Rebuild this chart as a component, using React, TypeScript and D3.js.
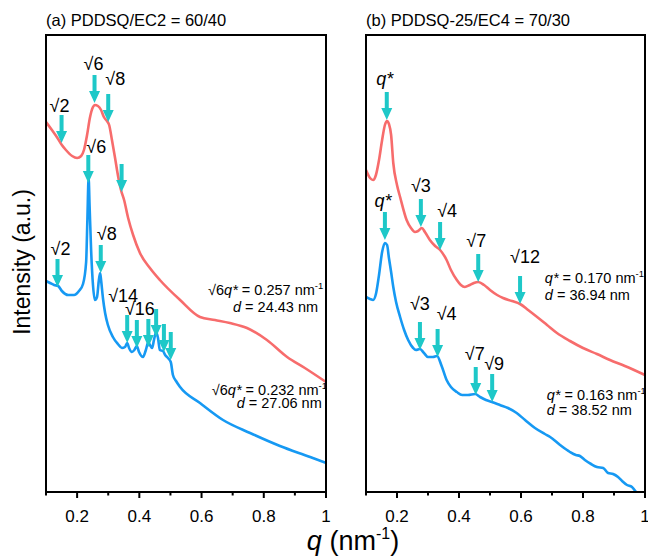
import React from "react";
import * as d3 from "d3";

// ---------- data (q in nm^-1, intensity in a.u.) ----------
const xMajorTicks = [0.2, 0.4, 0.6, 0.8, 1];
const xMinorTicks = [0.1, 0.3, 0.5, 0.7, 0.9];
const xTickLabels = ["0.2", "0.4", "0.6", "0.8", "1"];

const panelTitles = ["(a) PDDSQ/EC2 = 60/40", "(b) PDDSQ-25/EC4 = 70/30"];

const leftRed: [number, number][] = [
  [0.1, 370], [0.119, 362], [0.139, 353], [0.151, 347], [0.164, 342], [0.184, 336], [0.2, 334],
  [0.213, 336], [0.222, 342], [0.232, 357], [0.241, 374], [0.251, 385], [0.257, 387], [0.267, 386],
  [0.277, 382], [0.286, 375], [0.296, 371], [0.303, 367], [0.312, 352], [0.322, 334], [0.331, 317],
  [0.341, 302], [0.351, 292], [0.364, 274], [0.38, 257], [0.402, 239], [0.434, 224], [0.466, 212],
  [0.531, 192], [0.595, 175], [0.643, 172], [0.691, 169], [0.746, 164], [0.81, 152], [0.875, 135],
  [0.932, 124], [1.0, 110],
];

const leftBlue: [number, number][] = [
  [0.1, 211], [0.113, 209], [0.126, 207], [0.139, 206], [0.151, 201], [0.171, 197], [0.19, 197],
  [0.206, 201], [0.219, 208], [0.229, 230], [0.233, 272], [0.237, 314], [0.24, 287], [0.245, 242],
  [0.251, 207], [0.257, 192], [0.264, 195], [0.27, 212], [0.274, 219], [0.277, 212], [0.283, 194],
  [0.29, 179], [0.299, 167], [0.315, 155], [0.331, 148], [0.344, 144], [0.354, 145], [0.361, 149],
  [0.367, 144], [0.376, 140], [0.384, 142], [0.392, 146], [0.399, 140], [0.412, 135], [0.421, 142],
  [0.429, 150], [0.434, 147], [0.441, 144], [0.447, 152], [0.454, 160], [0.46, 154], [0.466, 142],
  [0.476, 141], [0.483, 137], [0.492, 134], [0.501, 130], [0.508, 117], [0.518, 111], [0.531, 105],
  [0.595, 89], [0.669, 72], [0.756, 59], [0.852, 46], [0.949, 35], [1.0, 29],
];

const rightRed: [number, number][] = [
  [0.1, 322], [0.113, 314], [0.123, 312], [0.132, 317], [0.142, 332], [0.152, 352], [0.161, 367],
  [0.168, 371], [0.174, 368], [0.181, 357], [0.188, 329], [0.2, 307], [0.21, 295], [0.231, 272],
  [0.245, 264], [0.258, 260], [0.268, 261], [0.28, 264], [0.29, 260], [0.306, 252], [0.323, 246],
  [0.339, 242], [0.36, 232], [0.374, 222], [0.393, 212], [0.406, 207], [0.419, 205], [0.435, 207],
  [0.448, 209], [0.462, 210], [0.481, 207], [0.5, 202], [0.523, 197], [0.542, 194], [0.571, 191],
  [0.597, 188], [0.623, 182], [0.652, 175], [0.684, 167], [0.716, 159], [0.758, 151], [0.8, 144],
  [0.845, 138], [0.887, 132], [0.935, 126], [1.0, 117],
];

const rightBlue: [number, number][] = [
  [0.1, 195], [0.113, 193], [0.123, 192], [0.132, 198], [0.142, 217], [0.152, 240], [0.161, 249],
  [0.168, 247], [0.174, 234], [0.181, 220], [0.188, 205], [0.197, 190], [0.21, 175], [0.223, 162],
  [0.236, 152], [0.252, 144], [0.261, 142], [0.274, 143], [0.287, 139], [0.3, 135], [0.316, 135],
  [0.329, 136], [0.344, 126], [0.36, 112], [0.374, 105], [0.393, 100], [0.41, 97], [0.429, 97],
  [0.452, 98], [0.468, 95], [0.487, 92], [0.506, 90], [0.532, 87], [0.558, 84], [0.586, 79],
  [0.613, 72], [0.645, 64], [0.677, 58], [0.694, 55], [0.726, 47], [0.758, 40], [0.777, 37],
  [0.79, 36], [0.806, 32], [0.826, 28], [0.845, 25], [0.865, 24], [0.881, 19], [0.897, 18],
  [0.913, 15], [0.926, 11], [0.942, 7], [0.958, 5], [0.971, 0],
];

// arrows: [q, intensity at tip, label, label dx (px), label rise above tip (px)]
type Arrow = [number, number, string, number, number];
const leftArrows: Arrow[] = [
  [0.15, 349, "√2", -2, 31],
  [0.256, 389, "√6", -1, 33],
  [0.3, 370, "√8", 7, 37],
  [0.343, 300, "", 0, 0],
  [0.137, 205, "√2", 3, 32],
  [0.236, 309, "√6", 8, 30],
  [0.276, 219, "√8", 6, 33],
  [0.361, 149, "√14", -4, 41],
  [0.392, 144, "√16", 3, 33],
  [0.429, 145, "", 0, 0],
  [0.454, 155, "", 0, 0],
  [0.479, 140, "", 0, 0],
  [0.501, 132, "", 0, 0],
];
const rightArrows: Arrow[] = [
  [0.167, 372, "q*", -2, 35],
  [0.277, 265, "√3", 0, 35],
  [0.339, 242, "√4", 7, 33],
  [0.462, 210, "√7", -2, 35],
  [0.597, 188, "√12", 5, 41],
  [0.161, 252, "q*", -2, 33],
  [0.274, 142, "√3", 0, 40],
  [0.331, 135, "√4", 9, 37],
  [0.454, 97, "√7", -1, 35],
  [0.507, 90, "√9", 2, 32],
];

// annotations: [q, intensity (baseline), prefix, italic, rest, superscript]
type Note = { q: number; i: number; parts: [string, boolean][]; sup?: string };
const leftNotes: Note[] = [
  { q: 0.621, i: 197, parts: [["√6", false], ["q*", true], [" = 0.257 nm", false]], sup: "-1" },
  { q: 0.701, i: 180, parts: [["d", true], [" = 24.43 nm", false]] },
  { q: 0.633, i: 97, parts: [["√6", false], ["q*", true], [" = 0.232 nm", false]], sup: "-1" },
  { q: 0.713, i: 84, parts: [["d", true], [" = 27.06 nm", false]] },
];
const rightNotes: Note[] = [
  { q: 0.677, i: 209, parts: [["q*", true], [" = 0.170 nm", false]], sup: "-1" },
  { q: 0.677, i: 192, parts: [["d", true], [" = 36.94 nm", false]] },
  { q: 0.683, i: 92, parts: [["q*", true], [" = 0.163 nm", false]], sup: "-1" },
  { q: 0.683, i: 77, parts: [["d", true], [" = 38.52 nm", false]] },
];

// ---------- styling ----------
const W = 648;
const H = 558;
const TOP = 35;
const BOTTOM = 492;
const panels = [
  { x0: 46, x1: 326 },
  { x0: 366, x1: 645 },
];
const RED = "#F76C6C";
const BLUE = "#1699F3";
const CYAN = "#1EC8C8";
const FONT = "'Liberation Sans', Arial, Helvetica, sans-serif";

const yScale = d3.scaleLinear().domain([0, 457]).range([BOTTOM, TOP]);

function ArrowMark({ x, y }: { x: number; y: number }) {
  const L = 28, hl = 12, hw = 5.5, sw = 2;
  const d = `M${x - sw},${y - L} L${x + sw},${y - L} L${x + sw},${y - hl} L${x + hw},${y - hl} L${x},${y} L${x - hw},${y - hl} L${x - sw},${y - hl} Z`;
  return <path d={d} fill={CYAN} />;
}

function Label({ x, y, text }: { x: number; y: number; text: string }) {
  if (text === "q*") {
    return (
      <text x={x} y={y} textAnchor="middle" fontSize={18} fontFamily={FONT} fontStyle="italic">
        q*
      </text>
    );
  }
  return (
    <text x={x} y={y} textAnchor="middle" fontSize={18} fontFamily={FONT}>
      {text}
    </text>
  );
}

function Panel({
  idx, red, blue, arrows, notes,
}: { idx: number; red: [number, number][]; blue: [number, number][]; arrows: Arrow[]; notes: Note[] }) {
  const { x0, x1 } = panels[idx];
  const x = d3.scaleLinear().domain([0.1, 1]).range([x0, x1]);
  const line = d3
    .line<[number, number]>()
    .x((d) => x(d[0]))
    .y((d) => yScale(d[1]))
    .curve(d3.curveMonotoneX);
  const clipId = `clip${idx}`;
  return (
    <g>
      <defs>
        <clipPath id={clipId}>
          <rect x={x0} y={TOP} width={x1 - x0} height={BOTTOM - TOP} />
        </clipPath>
      </defs>
      <text x={x0} y={26} fontSize={16.5} fontFamily={FONT}>
        {panelTitles[idx]}
      </text>
      <g clipPath={`url(#${clipId})`}>
        <path d={line(red) || ""} fill="none" stroke={RED} strokeWidth={2.6} strokeLinejoin="round" />
        <path d={line(blue) || ""} fill="none" stroke={BLUE} strokeWidth={2.6} strokeLinejoin="round" />
      </g>
      {arrows.map((a, k) => {
        const ax = x(a[0]);
        const ay = yScale(a[1]);
        return (
          <g key={k}>
            <ArrowMark x={ax} y={ay} />
            {a[2] && <Label x={ax + a[3]} y={ay - a[4]} text={a[2]} />}
          </g>
        );
      })}
      {notes.map((n, k) => (
        <text key={k} x={x(n.q)} y={yScale(n.i)} fontSize={14.5} fontFamily={FONT}>
          {n.parts.map((p, j) => (
            <tspan key={j} fontStyle={p[1] ? "italic" : "normal"}>
              {p[0]}
            </tspan>
          ))}
          {n.sup && (
            <tspan fontSize={9.5} dy={-6}>
              {n.sup}
            </tspan>
          )}
        </text>
      ))}
      <rect x={x0} y={TOP} width={x1 - x0} height={BOTTOM - TOP} fill="none" stroke="#000" strokeWidth={2} />
      {xMajorTicks.map((t, k) => (
        <g key={"M" + k}>
          <line x1={x(t)} x2={x(t)} y1={BOTTOM} y2={BOTTOM + 6} stroke="#000" strokeWidth={2} />
          <text x={x(t)} y={522} textAnchor="middle" fontSize={17} fontFamily={FONT}>
            {xTickLabels[k]}
          </text>
        </g>
      ))}
      {xMinorTicks.map((t, k) => (
        <line key={"m" + k} x1={x(t)} x2={x(t)} y1={BOTTOM} y2={BOTTOM + 3.5} stroke="#000" strokeWidth={2} />
      ))}
    </g>
  );
}

export default function App() {
  return (
    <svg
      width={W}
      height={H}
      viewBox={`0 0 ${W} ${H}`}
      style={{ position: "absolute", left: 0, top: 0, background: "#fff" }}
    >
      <rect x={0} y={0} width={W} height={H} fill="#fff" />
      <Panel idx={0} red={leftRed} blue={leftBlue} arrows={leftArrows} notes={leftNotes} />
      <Panel idx={1} red={rightRed} blue={rightBlue} arrows={rightArrows} notes={rightNotes} />
      <text
        transform={`translate(22, 262) rotate(-90)`}
        textAnchor="middle"
        dominantBaseline="central"
        fontSize={23}
        fontFamily={FONT}
      >
        Intensity (a.u.)
      </text>
      <text x={353} y={550} textAnchor="middle" fontSize={27} fontFamily={FONT}>
        <tspan fontStyle="italic">q</tspan>
        <tspan> (nm</tspan>
        <tspan fontSize={16} dy={-11}>-1</tspan>
        <tspan dy={11}>)</tspan>
      </text>
    </svg>
  );
}
